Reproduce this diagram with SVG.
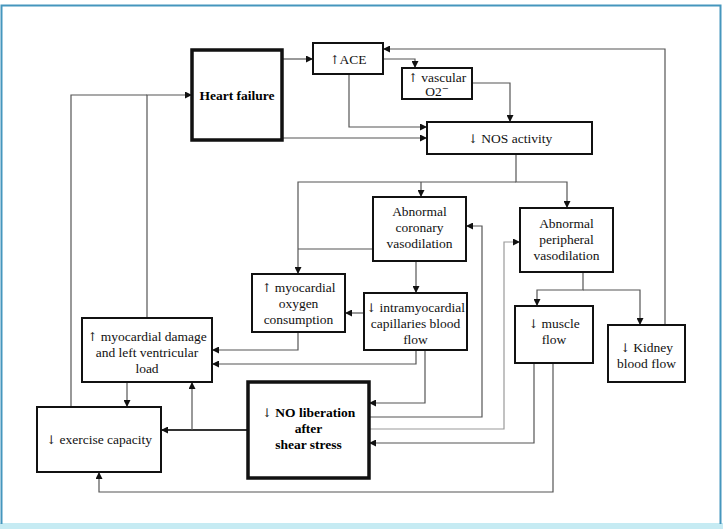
<svg xmlns="http://www.w3.org/2000/svg" width="723" height="529" viewBox="0 0 723 529">
<defs>
<marker id="ah" viewBox="0 0 7 7" refX="7" refY="3.5" markerWidth="7" markerHeight="7" markerUnits="userSpaceOnUse" orient="auto">
<path d="M0,0 L7,3.5 L0,7 z" fill="#111"/>
</marker>
<style>
.box{fill:#fff;stroke:#111;stroke-width:2}
.bold{fill:#fff;stroke:#111;stroke-width:3.5}
text{font-family:'Liberation Serif','Times New Roman','DejaVu Serif',serif;font-size:13.5px;fill:#111;text-anchor:middle}
.tb{font-weight:bold;fill:#000}
.ar{font-family:'DejaVu Serif','Liberation Serif',serif;font-weight:normal;font-size:12px;fill:#222}
.c{fill:none;stroke:#555;stroke-width:1.2}
.ca{fill:none;stroke:#555;stroke-width:1.2;marker-end:url(#ah)}
.cl{fill:none;stroke:#9a9a9a;stroke-width:1.2;marker-end:url(#ah)}
.ct{fill:none;stroke:#333;stroke-width:2;marker-end:url(#ah)}
</style>
</defs>
<rect x="0" y="0" width="723" height="529" fill="#fff"/>
<rect x="0" y="523" width="723" height="6" fill="#c6ebf3"/>
<path d="M1.5,524 V5.5 H720.5 V524" fill="none" stroke="#4596bd" stroke-width="2"/>

<g id="connectors">
<path class="ca" d="M282,59 H313"/>
<path class="ca" d="M383,59 H415 V68"/>
<path class="ca" d="M472,83 H510 V122"/>
<path class="ca" d="M349,74 V127 H427"/>
<path class="ca" d="M283,138 H427"/>
<path class="ca" d="M665,325 V49 H383"/>
<path class="ca" d="M516,154 V182 H567 V208"/>
<path class="ca" d="M516,182 H298 V274"/>
<path class="ca" d="M421,182 V197"/>
<path class="c" d="M373,249 H298"/>
<path class="ca" d="M416,261 V293"/>
<path class="ca" d="M364,313 H345"/>
<path class="ca" d="M298,332 V350 H212"/>
<path class="ca" d="M416,350 V364 H212"/>
<path class="ca" d="M425,350 V403 H369"/>
<path class="ca" d="M369,417 H482 V226 H466"/>
<path class="cl" d="M369,429 H504 V242 H520"/>
<path class="ca" d="M534,363 V443 H369"/>
<path class="ca" d="M553,363 V492 H99 V472"/>
<path class="ca" d="M583,272 V290 H537 V306"/>
<path class="ca" d="M583,290 H640 V325"/>
<path class="ct" d="M248,430 H161"/>
<path class="ca" d="M192,430 V382"/>
<path class="ca" d="M127,382 V407"/>
<path class="ca" d="M147,318 V95 H192"/>
<path class="c" d="M71,407 V95 H147"/>
</g>

<g id="heart-failure"><rect class="bold" x="192" y="50" width="90" height="90"/><text class="tb" x="237" y="99.5">Heart failure</text></g>
<g id="ace"><rect class="box" x="313" y="43" width="70" height="31"/><text x="348" y="64"><tspan class="ar">↑</tspan>ACE</text></g>
<g id="vascular"><rect class="box" x="402" y="68" width="70" height="31"/><text x="437" y="81.5"><tspan class="ar">↑</tspan> vascular</text><text x="437" y="96">O2⁻</text></g>
<g id="nos"><rect class="box" x="427" y="122" width="165" height="32"/><text x="510" y="142.5"><tspan class="ar">↓</tspan> NOS activity</text></g>
<g id="coronary"><rect class="box" x="373" y="197" width="93" height="64"/><text x="419.5" y="215.5">Abnormal</text><text x="419.5" y="231.5">coronary</text><text x="419.5" y="247.5">vasodilation</text></g>
<g id="peripheral"><rect class="box" x="520" y="208" width="93" height="64"/><text x="566.5" y="227.5">Abnormal</text><text x="566.5" y="243.5">peripheral</text><text x="566.5" y="259.5">vasodilation</text></g>
<g id="oxygen"><rect class="box" x="252" y="274" width="93" height="58"/><text x="298.5" y="291.5"><tspan class="ar">↑</tspan> myocardial</text><text x="298.5" y="307.5">oxygen</text><text x="298.5" y="323.5">consumption</text></g>
<g id="intramyocardial"><rect class="box" x="364" y="293" width="103" height="57"/><text x="415.5" y="311.5"><tspan class="ar">↓</tspan> intramyocardial</text><text x="415.5" y="327.5">capillaries blood</text><text x="415.5" y="343.5">flow</text></g>
<g id="muscle"><rect class="box" x="515" y="306" width="78" height="57"/><text x="554" y="327.5"><tspan class="ar">↓</tspan> muscle</text><text x="554" y="344">flow</text></g>
<g id="kidney"><rect class="box" x="608" y="325" width="77" height="57"/><text x="646.5" y="351.5"><tspan class="ar">↓</tspan> Kidney</text><text x="646.5" y="367.5">blood flow</text></g>
<g id="damage"><rect class="box" x="82" y="318" width="130" height="64"/><text x="147" y="340.5"><tspan class="ar">↑</tspan> myocardial damage</text><text x="147" y="356.5">and left ventricular</text><text x="147" y="372.5">load</text></g>
<g id="exercise"><rect class="box" x="37" y="407" width="124" height="65"/><text x="99" y="443.5"><tspan class="ar">↓</tspan> exercise capacity</text></g>
<g id="no-liberation"><rect class="bold" x="248" y="382" width="121" height="96"/><text class="tb" x="308.5" y="416.5"><tspan class="ar">↓</tspan> NO liberation</text><text class="tb" x="308.5" y="432.5">after</text><text class="tb" x="308.5" y="449">shear stress</text></g>
</svg>
